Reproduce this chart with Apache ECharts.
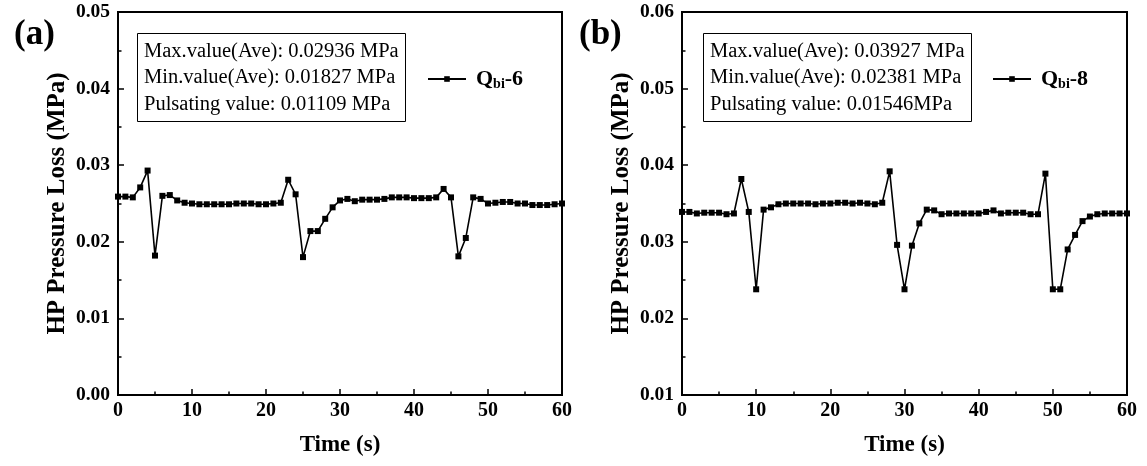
<!DOCTYPE html>
<html><head><meta charset="utf-8">
<script src="https://cdn.jsdelivr.net/npm/echarts@6/dist/echarts.min.js"></script>
<style>html,body{margin:0;padding:0;background:#fff}#c{width:1147px;height:466px}</style>
</head><body><div id="c"></div>
<script>
const timeS = [0,1,2,3,4,5,6,7,8,9,10,11,12,13,14,15,16,17,18,19,20,21,22,23,24,25,26,27,28,29,30,31,32,33,34,35,36,37,38,39,40,41,42,43,44,45,46,47,48,49,50,51,52,53,54,55,56,57,58,59,60];
const qbi6 = [0.0259,0.0259,0.0258,0.0271,0.0293,0.0182,0.0260,0.0261,0.0254,0.0251,0.0250,0.0249,0.0249,0.0249,0.0249,0.0249,0.0250,0.0250,0.0250,0.0249,0.0249,0.0250,0.0251,0.0281,0.0262,0.0180,0.0214,0.0214,0.0230,0.0245,0.0254,0.0256,0.0253,0.0255,0.0255,0.0255,0.0256,0.0258,0.0258,0.0258,0.0257,0.0257,0.0257,0.0258,0.0269,0.0258,0.0181,0.0205,0.0258,0.0256,0.0250,0.0251,0.0252,0.0252,0.0250,0.0250,0.0248,0.0248,0.0248,0.0249,0.0250];
const qbi8 = [0.0339,0.0339,0.0337,0.0338,0.0338,0.0338,0.0336,0.0337,0.0382,0.0339,0.0238,0.0342,0.0345,0.0349,0.0350,0.0350,0.0350,0.0350,0.0349,0.0350,0.0350,0.0351,0.0351,0.0350,0.0351,0.0350,0.0349,0.0351,0.0392,0.0296,0.0238,0.0295,0.0324,0.0342,0.0341,0.0336,0.0337,0.0337,0.0337,0.0337,0.0337,0.0339,0.0341,0.0337,0.0338,0.0338,0.0338,0.0336,0.0336,0.0389,0.0238,0.0238,0.0290,0.0309,0.0327,0.0333,0.0336,0.0337,0.0337,0.0337,0.0337];
const xTicks = {min:0, max:60, interval:10};
const yTicksA = {min:0.00, max:0.05, interval:0.01};
const yTicksB = {min:0.01, max:0.06, interval:0.01};
const panelLabels = ['(a)','(b)'];
const seriesNames = ['Q_bi-6','Q_bi-8'];
const noteA = ['Max.value(Ave): 0.02936 MPa','Min.value(Ave): 0.01827 MPa','Pulsating value: 0.01109 MPa'];
const noteB = ['Max.value(Ave): 0.03927 MPa','Min.value(Ave): 0.02381 MPa','Pulsating value: 0.01546MPa'];

const SERIF = '"Liberation Serif","DejaVu Serif",serif';
const chart = echarts.init(document.getElementById('c'));

function xAxis(gi){
  return {type:'value', gridIndex:gi, min:xTicks.min, max:xTicks.max, interval:xTicks.interval,
    name:'Time (s)', nameLocation:'middle', nameGap:39,
    nameTextStyle:{fontFamily:SERIF, fontWeight:'bold', fontSize:23, color:'#000'},
    axisLine:{show:true, onZero:false, lineStyle:{color:'#000', width:2}},
    axisTick:{show:true, inside:true, length:6, lineStyle:{color:'#000', width:1.5}},
    minorTick:{show:true, splitNumber:2, length:3.5, lineStyle:{color:'#000', width:1.5}},
    axisLabel:{fontFamily:SERIF, fontWeight:'bold', fontSize:20, color:'#000', margin:6},
    splitLine:{show:false}};
}
function yAxis(gi, t){
  return {type:'value', gridIndex:gi, min:t.min, max:t.max, interval:t.interval,
    name:'HP Pressure Loss (MPa)', nameLocation:'middle', nameGap:48,
    nameTextStyle:{fontFamily:SERIF, fontWeight:'bold', fontSize:25, color:'#000'},
    axisLine:{show:true, onZero:false, lineStyle:{color:'#000', width:2}},
    axisTick:{show:true, inside:true, length:6, lineStyle:{color:'#000', width:1.5}},
    minorTick:{show:true, splitNumber:2, length:3.5, lineStyle:{color:'#000', width:1.5}},
    axisLabel:{fontFamily:SERIF, fontWeight:'bold', fontSize:19.5, color:'#000', margin:8,
      formatter:v=>v.toFixed(2)},
    splitLine:{show:false}};
}
function pairs(vals){ return timeS.map((t,i)=>[t, vals[i]]); }
function legendFmt(name){ const p = name.split('_'); const r = p[1].split('-'); return '{f|'+p[0]+'}{s|'+r[0]+'}{b|-'+r[1]+'}'; }
const legendRich = {
  f:{fontFamily:SERIF, fontWeight:'bold', fontSize:22, color:'#000', padding:[0,0,0,5]},
  b:{fontFamily:SERIF, fontWeight:'bold', fontSize:22, color:'#000'},
  s:{fontFamily:SERIF, fontWeight:'bold', fontSize:14, color:'#000', padding:[10,0,0,0]}};
function note(lines, left){
  return {text:lines.join('\n'), left:left, top:33, borderColor:'#000', borderWidth:1, padding:[5,7,4,7],
    textStyle:{fontFamily:SERIF, fontWeight:'normal', fontSize:20.5, lineHeight:26.5, color:'#000'}};
}
const option = {
  animation:false,
  backgroundColor:'#fff',
  title:[
    {text:panelLabels[0], left:9, top:12, textStyle:{fontFamily:SERIF, fontWeight:'bold', fontSize:35, color:'#000'}},
    {text:panelLabels[1], left:574, top:12, textStyle:{fontFamily:SERIF, fontWeight:'bold', fontSize:35, color:'#000'}},
    note(noteA, 137), note(noteB, 703)
  ],
  legend:[
    {data:[seriesNames[0]], left:427, top:68, padding:0, itemWidth:38, itemHeight:7, formatter:legendFmt, textStyle:{rich:legendRich}},
    {data:[seriesNames[1]], left:992, top:68, padding:0, itemWidth:38, itemHeight:7, formatter:legendFmt, textStyle:{rich:legendRich}}
  ],
  grid:[
    {left:118, right:585, top:12, bottom:71, show:true, borderColor:'#000', borderWidth:2},
    {left:682, right:20, top:12, bottom:71, show:true, borderColor:'#000', borderWidth:2}
  ],
  xAxis:[xAxis(0), xAxis(1)],
  yAxis:[yAxis(0, yTicksA), yAxis(1, yTicksB)],
  series:[
    {name:seriesNames[0], type:'line', xAxisIndex:0, yAxisIndex:0, data:pairs(qbi6), symbol:'rect', symbolSize:6,
      lineStyle:{color:'#000', width:1.6}, itemStyle:{color:'#000'}},
    {name:seriesNames[1], type:'line', xAxisIndex:1, yAxisIndex:1, data:pairs(qbi8), symbol:'rect', symbolSize:6,
      lineStyle:{color:'#000', width:1.6}, itemStyle:{color:'#000'}}
  ]
};
chart.setOption(option);
</script></body></html>
